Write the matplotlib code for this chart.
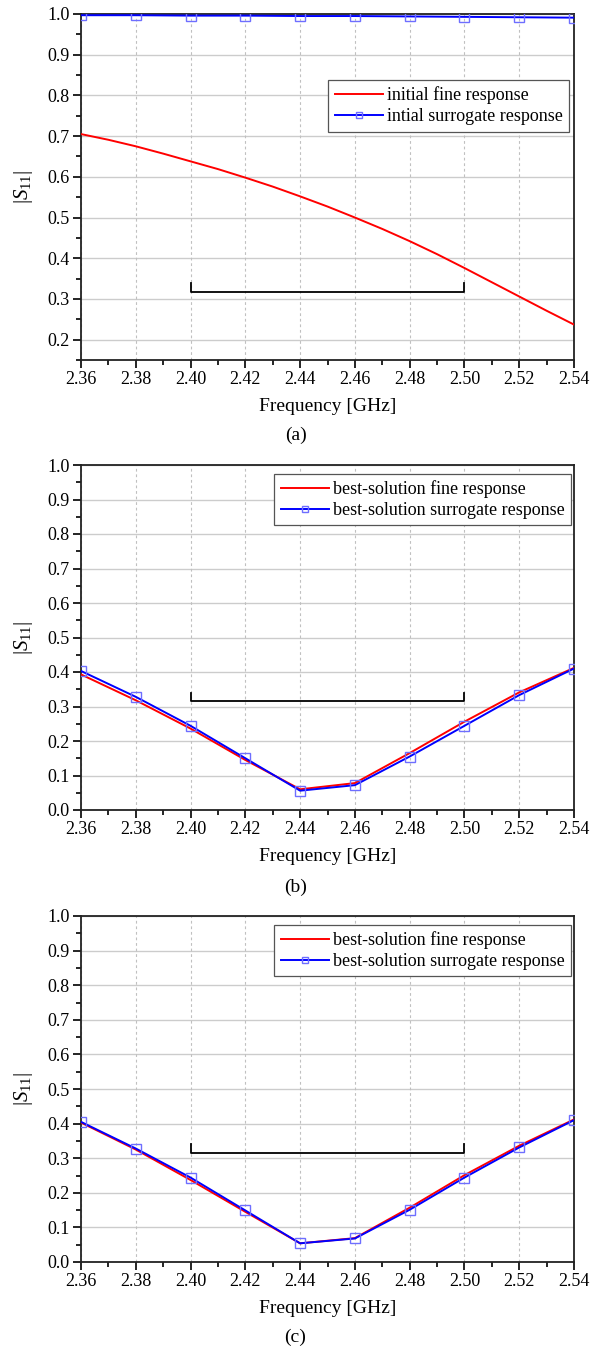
import numpy as np
import matplotlib
matplotlib.use("Agg")
import matplotlib.pyplot as plt
from matplotlib.ticker import MultipleLocator, FormatStrFormatter

plt.rcParams['font.family'] = ['Liberation Serif', 'DejaVu Serif']
plt.rcParams['mathtext.fontset'] = 'custom'
plt.rcParams['mathtext.rm'] = 'Liberation Serif'
plt.rcParams['mathtext.it'] = 'Liberation Serif:style=italic'

# frequency samples [GHz]
freq = [2.36, 2.38, 2.40, 2.42, 2.44, 2.46, 2.48, 2.50, 2.52, 2.54]
freq_fine = [2.36, 2.37, 2.38, 2.39, 2.40, 2.41, 2.42, 2.43, 2.44, 2.45,
             2.46, 2.47, 2.48, 2.49, 2.50, 2.51, 2.52, 2.53, 2.54]

# (a) initial design
a_fine = [0.705, 0.691, 0.675, 0.657, 0.638, 0.619, 0.598, 0.576, 0.552, 0.527,
          0.500, 0.472, 0.442, 0.410, 0.376, 0.341, 0.306, 0.271, 0.237]
a_surr = [0.997, 0.997, 0.996, 0.996, 0.995, 0.995, 0.994, 0.993, 0.992, 0.991]

# (b) best solution
b_fine = [0.393, 0.318, 0.236, 0.145, 0.060, 0.078, 0.165, 0.256, 0.341, 0.412]
b_surr = [0.403, 0.328, 0.244, 0.150, 0.056, 0.072, 0.155, 0.244, 0.333, 0.410]

# (c) best solution
c_fine = [0.403, 0.325, 0.237, 0.145, 0.054, 0.069, 0.157, 0.251, 0.336, 0.412]
c_surr = [0.405, 0.328, 0.244, 0.149, 0.054, 0.068, 0.151, 0.244, 0.331, 0.410]

# design specification: |S11| <= -10 dB over 2.40-2.50 GHz
spec_band = [2.40, 2.50]
spec_level = 0.316
spec_tick = 0.024

legend_a = ["initial fine response", "intial surrogate response"]
legend_bc = ["best-solution fine response", "best-solution surrogate response"]
panel_tags = ["(a)", "(b)", "(c)"]

W, H = 591, 1347
fig = plt.figure(figsize=(W / 100, H / 100), dpi=100)

left, right = 81, 574
boxes = [(14, 360), (465, 810), (916, 1262)]  # top/bottom pixel rows
tag_rows = [435, 887, 1337]


def draw_panel(ax, xf, fine, xs, surr, labels, ylim, leg_anchor):
    for y in np.arange(0.0, 1.0001, 0.1):
        if ylim[0] <= y <= ylim[1]:
            ax.axhline(y, color='#cccccc', lw=1.0, zorder=0)
    for x in freq:
        ax.axvline(x, color='#c0c0c0', lw=0.8, ls=(0, (2.5, 2.5)), zorder=0)

    ax.plot(xf, fine, color='red', lw=1.4, label=labels[0], zorder=3)
    ax.plot(xs, surr, color='blue', lw=1.4, marker='s', ms=6.5, mfc='none',
            mec='#6e6eff', mew=1.0, label=labels[1], zorder=4)

    # specification bracket
    ax.plot([spec_band[0], spec_band[0], spec_band[1], spec_band[1]],
            [spec_level + spec_tick, spec_level, spec_level, spec_level + spec_tick],
            color='black', lw=1.3, zorder=5)

    ax.set_xlim(2.36, 2.54)
    ax.set_ylim(*ylim)
    ax.xaxis.set_major_locator(MultipleLocator(0.02))
    ax.xaxis.set_minor_locator(MultipleLocator(0.01))
    ax.yaxis.set_major_locator(MultipleLocator(0.1))
    ax.yaxis.set_minor_locator(MultipleLocator(0.05))
    ax.xaxis.set_major_formatter(FormatStrFormatter('%.2f'))
    ax.yaxis.set_major_formatter(FormatStrFormatter('%.1f'))
    ax.tick_params(which='both', direction='out', top=False, right=False,
                   width=1.2, colors='black', labelsize=13)
    ax.tick_params(which='major', length=6, pad=2)
    ax.tick_params(which='minor', length=3.5)
    for s in ax.spines.values():
        s.set_linewidth(1.3)
        s.set_color('#222222')

    ax.set_xlabel('Frequency [GHz]', fontsize=14, labelpad=7)
    ax.set_ylabel(r'$|S_{11}|$', fontsize=15, labelpad=9)

    leg = ax.legend(loc='upper right', bbox_to_anchor=leg_anchor,
                    fontsize=13, numpoints=1, handlelength=2.7,
                    handletextpad=0.2, borderpad=0.35, labelspacing=0.22,
                    borderaxespad=0, fancybox=False, framealpha=1,
                    edgecolor='#555555')
    leg.get_frame().set_linewidth(0.9)
    leg.legend_handles[1].set_markersize(4.5)


panels = [
    (freq_fine, a_fine, freq, a_surr, legend_a, (0.15, 1.0), (0.99, 0.809)),
    (freq, b_fine, freq, b_surr, legend_bc, (0.0, 1.0), (0.994, 0.974)),
    (freq, c_fine, freq, c_surr, legend_bc, (0.0, 1.0), (0.994, 0.974)),
]

for (top, bot), tag_y, tag, p in zip(boxes, tag_rows, panel_tags, panels):
    ax = fig.add_axes([left / W, 1 - bot / H, (right - left) / W, (bot - top) / H])
    draw_panel(ax, *p)
    fig.text(0.5, 1 - tag_y / H, tag, ha='center', va='center', fontsize=14)

fig.savefig('out.png', dpi=100)
